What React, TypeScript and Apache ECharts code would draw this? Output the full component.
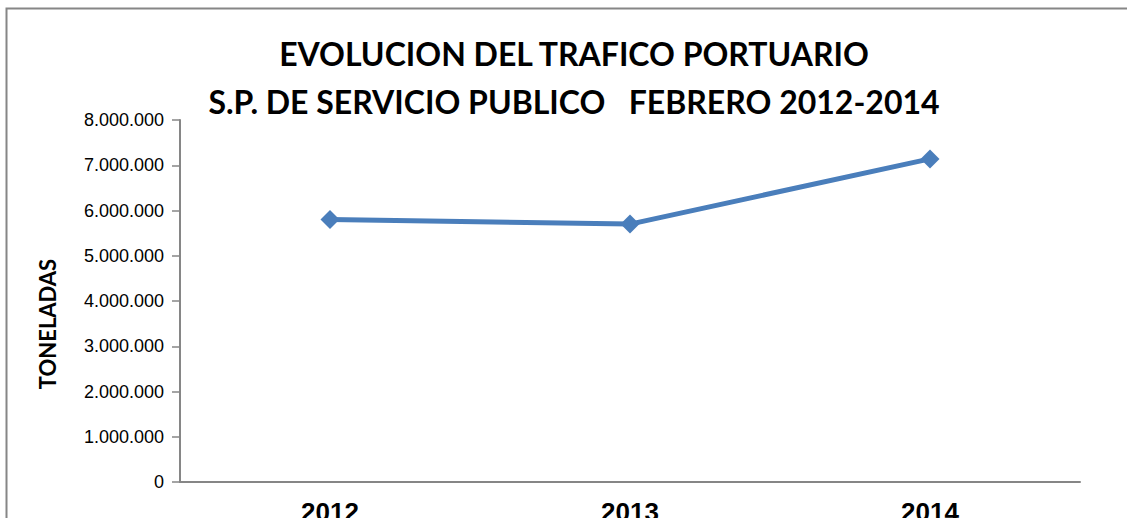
import React, { useEffect, useRef } from "react";
import * as echarts from "echarts";

const years = ["2012", "2013", "2014"];
const toneladas = [5800000, 5700000, 7140000];
const titleLine1 = "EVOLUCION DEL TRAFICO PORTUARIO";
const titleLine2 = "S.P. DE SERVICIO PUBLICO   FEBRERO 2012-2014";
const yAxisName = "TONELADAS";

function fmt(v: number): string {
  return String(Math.round(v)).replace(/\B(?=(\d{3})+(?!\d))/g, ".");
}

export default function App() {
  const ref = useRef<HTMLDivElement>(null);
  useEffect(() => {
    if (!ref.current) return;
    const chart = echarts.init(ref.current, undefined, { renderer: "svg" });
    chart.setOption({
      animation: false,
      backgroundColor: "#ffffff",
      title: [
        {
          text: titleLine1,
          left: 569,
          top: 32,
          textAlign: "center",
          textStyle: { fontFamily: "Lato", fontWeight: "bold", fontSize: 32, color: "#000" },
        },
        {
          text: titleLine2,
          left: 569,
          top: 80,
          textAlign: "center",
          textStyle: { fontFamily: "Lato", fontWeight: "bold", fontSize: 32, color: "#000" },
        },
      ],
      graphic: [
        {
          type: "rect",
          shape: { x: 6.5, y: 8.5, width: 1200, height: 600 },
          style: { fill: "none", stroke: "#868686", lineWidth: 2 },
          silent: true,
          z: -1,
        },
        {
          type: "text",
          x: 47,
          y: 324,
          rotation: Math.PI / 2,
          style: {
            text: yAxisName,
            fontFamily: "Lato",
            fontWeight: "bold",
            fontSize: 22,
            fill: "#000",
            align: "center",
            verticalAlign: "middle",
          },
        },
      ],
      grid: {
        left: 180,
        right: 47,
        top: 120,
        bottom: 36,
        containLabel: false,
        outerBoundsMode: "none",
      },
      xAxis: {
        type: "category",
        data: years,
        boundaryGap: true,
        axisLine: { lineStyle: { color: "#868686", width: 2 } },
        axisTick: { show: false },
        axisLabel: {
          margin: 17,
          fontFamily: "Liberation Sans",
          fontWeight: "bold",
          fontSize: 26,
          color: "#000",
        },
        splitLine: { show: false },
      },
      yAxis: {
        type: "value",
        min: 0,
        max: 8000000,
        interval: 1000000,
        axisLine: { show: true, lineStyle: { color: "#868686", width: 2 } },
        axisTick: { show: true, inside: false, length: 8, lineStyle: { color: "#868686", width: 1.5 } },
        axisLabel: {
          margin: 16,
          fontFamily: "Liberation Sans",
          fontSize: 18,
          color: "#000",
          formatter: (v: number) => fmt(v),
        },
        splitLine: { show: false },
      },
      series: [
        {
          type: "line",
          data: toneladas,
          symbol: "diamond",
          symbolSize: 19,
          lineStyle: { color: "#4a7ebb", width: 5 },
          itemStyle: { color: "#4a7ebb" },
        },
      ],
    });
    return () => chart.dispose();
  }, []);
  return (
    <div
      ref={ref}
      style={{ position: "absolute", left: 0, top: 0, width: 1127, height: 518 }}
    />
  );
}
